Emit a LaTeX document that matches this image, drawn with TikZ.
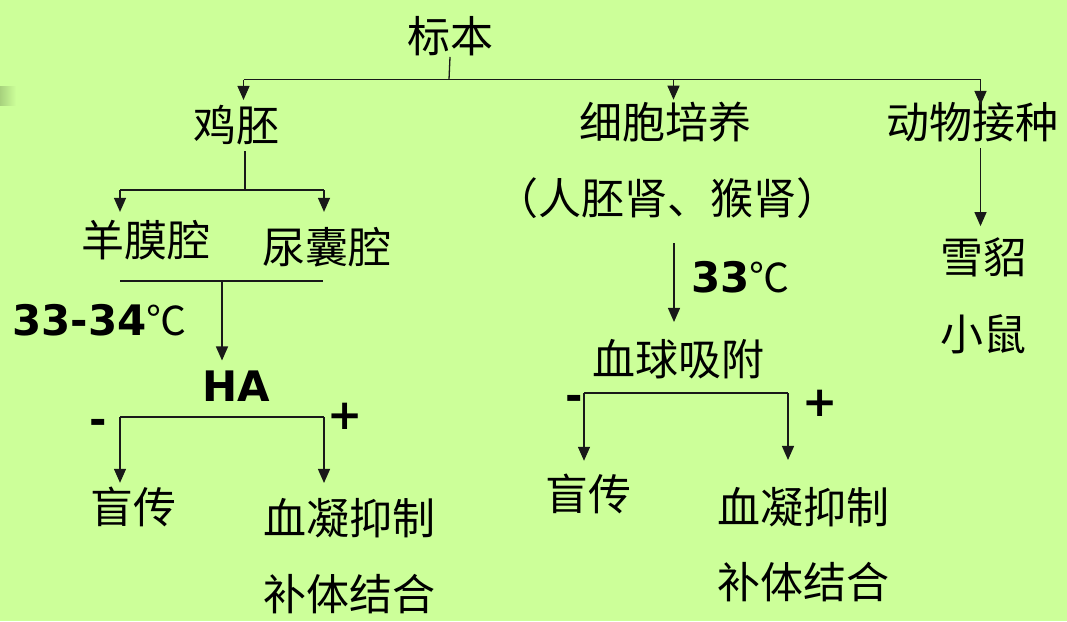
\documentclass[tikz,border=0pt]{standalone}
\usepackage{fontspec}
\usetikzlibrary{arrows.meta}
\newfontfamily\cjk{Noto Sans CJK SC}
\newfontfamily\bfn{DejaVu Sans}
\definecolor{bg}{HTML}{CCFF99}
\newcommand{\degc}{{\cjk\mdseries\fontsize{40}{48}\selectfont ℃}}
\tikzset{
  cn/.style={inner sep=0pt, font=\cjk\fontsize{43}{48}\selectfont},
  bn/.style={inner sep=0pt, font=\bfn\bfseries\fontsize{42}{48}\selectfont},
  ln/.style={line width=1.3pt, draw=black!90},
  arr/.style={ln, -{Triangle[length=14pt,width=12pt]}}
}
\begin{document}
\begin{tikzpicture}[x=1pt,y=-1pt]
\fill[bg] (0,0) rectangle (1067,621);
\useasboundingbox (0,0) rectangle (1067,621);
\shade[left color=black!18!bg, right color=bg] (0,86) rectangle (16,105);

% nodes
\node[cn] (biaoben) at (450,36) {标本};
\node[cn] (jipei) at (236,125) {鸡胚};
\node[cn] (xibao) at (665,122) {细胞培养};
\node[cn] (dongwu) at (972,122) {动物接种};
\node[cn] (renpei) at (667,198) {（人胚肾、猴肾）};
\node[cn] (yangmo) at (146,240) {羊膜腔};
\node[cn] (niaonang) at (327,247) {尿囊腔};
\node[cn] (xuediao) at (983,257) {雪貂};
\node[cn] (xiaoshu) at (983,334) {小鼠};
\node[bn, anchor=base west] (tA) at (12,335) {33-34\degc};
\node[bn] (ha) at (236,386) {HA};
\node[bn] (minusA) at (98,427) {-};
\node[bn] (plusA) at (345,416) {+};
\node[cn] (mangA) at (133,507) {盲传};
\node[cn] (xnA) at (349,518) {血凝抑制};
\node[cn] (btA) at (349,594) {补体结合};
\node[bn, anchor=base west] (tB) at (691,292) {33\degc};
\node[cn] (xueqiu) at (678,359) {血球吸附};
\node[bn] (minusB) at (574,403) {-};
\node[bn] (plusB) at (820,403) {+};
\node[cn] (mangB) at (588,494) {盲传};
\node[cn] (xnB) at (803,507) {血凝抑制};
\node[cn] (btB) at (803,582) {补体结合};

% coordinates
\coordinate (b0) at (449,79.5);
\coordinate (bL) at (243.5,79.5);
\coordinate (bM) at (673.5,79.5);
\coordinate (bR) at (980.5,79.5);
\coordinate (j0) at (245,190);
\coordinate (jL) at (120,190);
\coordinate (jR) at (324,190);
\coordinate (yL) at (120,281);
\coordinate (yR) at (323,281);
\coordinate (y0) at (222,281);
\coordinate (hL) at (120,417);
\coordinate (hR) at (324,417);
\coordinate (r0) at (674,243);
\coordinate (qL) at (584,393);
\coordinate (qR) at (788,393);
\coordinate (d0) at (980.5,148);

% connectors
\draw[ln] ([yshift=-1pt]biaoben.south) -- (b0);
\draw[ln] (bL) -- (bR);
\draw[arr] (bL) -- ([yshift=5pt]bL |- jipei.north);
\draw[arr] (bM) -- ([yshift=2pt]bM |- xibao.north);
\draw[arr] (bR) -- ([yshift=-3pt]bR |- dongwu.north);

\draw[ln] ([yshift=-6pt]j0 |- jipei.south) -- (j0);
\draw[ln] (jL) -- (jR);
\draw[arr] (jL) -- ([yshift=8pt]jL |- yangmo.north);
\draw[arr] (jR) -- ([yshift=15pt]jR |- niaonang.north);

\draw[ln] (yL) -- (yR);
\draw[arr] (y0) -- ([yshift=10pt]y0 |- ha.north);
\draw[ln] (hL) -- (hR);
\draw[arr] (hL) -- ([yshift=4pt]hL |- mangA.north);
\draw[arr] (hR) -- ([yshift=15pt]hR |- xnA.north);

\draw[arr] (r0) -- ([yshift=17pt]r0 |- xueqiu.north);
\draw[ln] (qL) -- (qR);
\draw[arr] (qL) -- ([yshift=13pt]qL |- mangB.north);
\draw[arr] (qR) -- ([yshift=27pt]qR |- xnB.north);

\draw[arr] (d0) -- ([yshift=11pt]d0 |- xuediao.north);
\end{tikzpicture}
\end{document}
